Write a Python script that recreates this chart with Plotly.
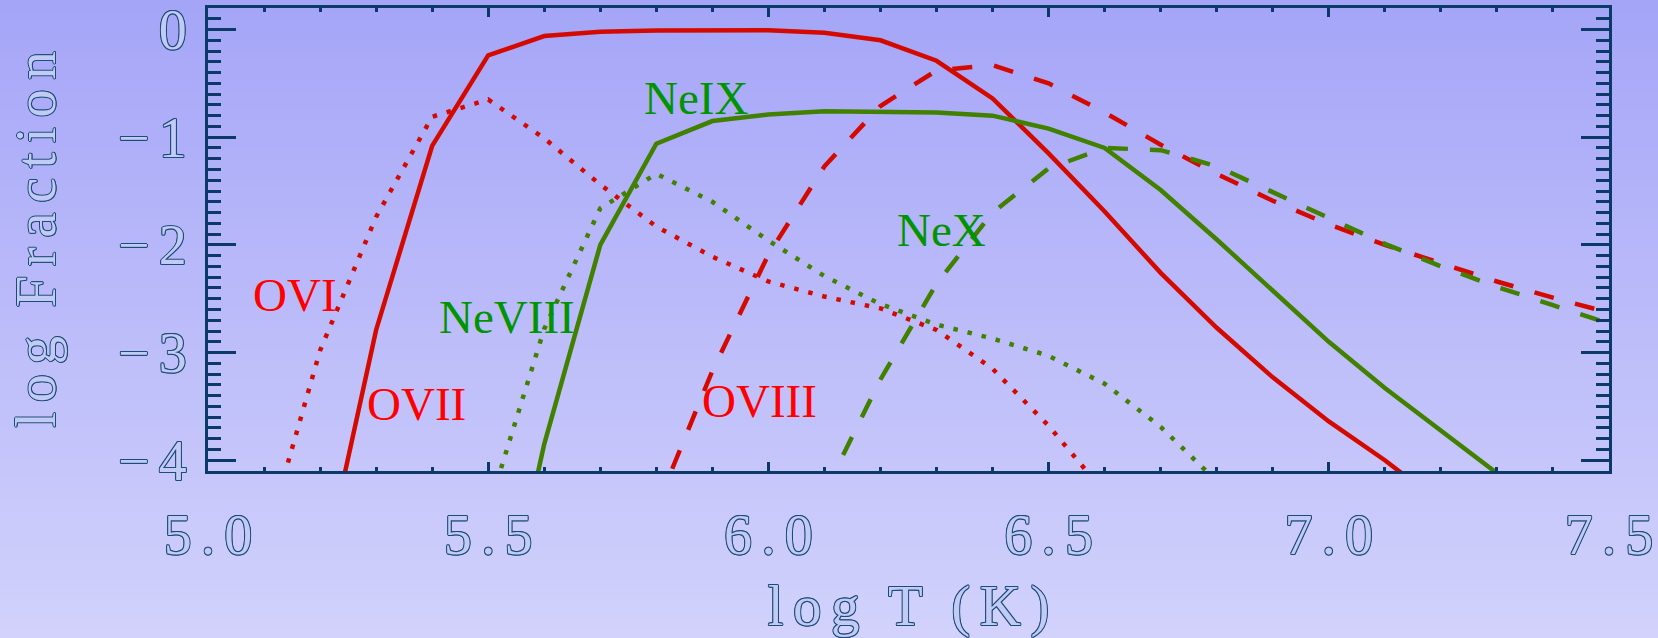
import plotly.graph_objects as go

# ---------------- data (log T, log ionisation fraction) ----------------
OVI_T = [5.1, 5.2, 5.3, 5.4, 5.5, 5.6, 5.7, 5.8, 5.9, 6.0, 6.1, 6.2, 6.3, 6.4, 6.5, 6.6]
OVI_F = [-4.80, -2.98, -1.74, -0.81, -0.65, -1.01, -1.44, -1.83, -2.11, -2.34, -2.48,
         -2.59, -2.79, -3.15, -3.68, -4.30]

OVII_T = [5.2, 5.3, 5.4, 5.5, 5.6, 5.7, 5.8, 5.9, 6.0, 6.1, 6.2, 6.3, 6.4, 6.5, 6.6,
          6.7, 6.8, 6.9, 7.0, 7.1, 7.2]
OVII_F = [-5.17, -2.79, -1.08, -0.24, -0.06, -0.02, -0.01, -0.003, -0.006, -0.03, -0.10,
          -0.29, -0.64, -1.15, -1.69, -2.26, -2.77, -3.23, -3.64, -4.00, -4.40]

OVIII_T = [5.8, 5.9, 6.0, 6.1, 6.2, 6.3, 6.4, 6.5, 6.6, 6.7, 6.8, 6.9, 7.0, 7.1, 7.2,
           7.3, 7.4, 7.5]
OVIII_F = [-4.44, -3.17, -2.09, -1.27, -0.71, -0.38, -0.33, -0.50, -0.77, -1.07, -1.34,
           -1.59, -1.81, -2.00, -2.17, -2.34, -2.49, -2.63]

NeVIII_T = [5.5, 5.6, 5.7, 5.8, 5.9, 6.0, 6.1, 6.2, 6.3, 6.4, 6.5, 6.6, 6.7, 6.8, 6.9]
NeVIII_F = [-4.46, -2.78, -1.66, -1.34, -1.60, -1.96, -2.29, -2.55, -2.74, -2.87, -3.03,
            -3.29, -3.69, -4.21, -4.70]

NeIX_T = [5.5, 5.6, 5.7, 5.8, 5.9, 6.0, 6.1, 6.2, 6.3, 6.4, 6.5, 6.6, 6.7, 6.8, 6.9,
          7.0, 7.1, 7.2, 7.3, 7.4]
NeIX_F = [-6.20, -3.85, -2.00, -1.06, -0.85, -0.79, -0.76, -0.76, -0.77, -0.80, -0.92,
          -1.10, -1.49, -1.95, -2.42, -2.90, -3.33, -3.73, -4.12, -4.50]

NeX_T = [6.1, 6.2, 6.3, 6.4, 6.5, 6.6, 6.7, 6.8, 6.9, 7.0, 7.1, 7.2, 7.3, 7.4, 7.5]
NeX_F = [-4.30, -3.25, -2.36, -1.70, -1.29, -1.10, -1.12, -1.27, -1.51, -1.75, -1.99,
         -2.20, -2.39, -2.56, -2.73]

LABELS = ["OVI", "OVII", "OVIII", "NeVIII", "NeIX", "NeX"]
LABEL_X = [5.155, 5.372, 5.984, 5.533, 5.870, 6.308]
LABEL_Y = [-2.47, -3.48, -3.45, -2.67, -0.64, -1.86]

X_TICKS = [5.0, 5.5, 6.0, 6.5, 7.0, 7.5]
X_TICKTEXT = ["5\u2006.\u20060", "5\u2006.\u20065", "6\u2006.\u20060",
              "6\u2006.\u20065", "7\u2006.\u20060", "7\u2006.\u20065"]
Y_TICKS = [0, -1, -2, -3, -4]
Y_TICKTEXT = ["0", "\u2212\u20061", "\u2212\u20062", "\u2212\u20063", "\u2212\u20064"]

X_TITLE = "l\u2006o\u2006g\u2002T\u2002(\u2006K\u2006)"
Y_TITLE = "l\u2006o\u2006g\u2002F\u2006r\u2006a\u2006c\u2006t\u2006i\u2006o\u2006n"

# ---------------- styling ----------------
RED = "#d40a00"
GREEN = "#428000"
RED_TXT = "#ff0000"
GREEN_TXT = "#009400"
AXIS = "#0b3a6a"
OUTLINE = "#1d4b7b"
FILL = "#c2cbf3"
SHADOW = ", ".join(f"{dx}px {dy}px 0 {OUTLINE}" for dx, dy in
                   [(1, 0), (-1, 0), (0, 1), (0, -1), (0.7, 0.7), (-0.7, -0.7), (0.7, -0.7), (-0.7, 0.7)])
SERIF = "Liberation Serif, Times New Roman, serif"

W, H = 1658, 638
ML, MR, MT, MB = 208, 49, 8, 167
PW, PH = W - ML - MR, H - MT - MB

LW = 4.5
DOT = "4.5px,10px"
DASH = "20px,22px"

series = [
    (OVI_T, OVI_F, RED, DOT),
    (OVII_T, OVII_F, RED, "solid"),
    (OVIII_T, OVIII_F, RED, DASH),
    (NeVIII_T, NeVIII_F, GREEN, DOT),
    (NeIX_T, NeIX_F, GREEN, "solid"),
    (NeX_T, NeX_F, GREEN, DASH),
]

fig = go.Figure()
for xs, ys, col, dash in series:
    fig.add_trace(go.Scatter(x=xs, y=ys, mode="lines",
                             line=dict(color=col, width=LW, dash=dash),
                             showlegend=False, hoverinfo="skip"))

# background vertical gradient (top lavender -> bottom pale)
top = (165, 165, 248)
bot = (210, 210, 252)
N = 64
shapes = []
for i in range(N):
    p0 = i * H / N
    p1 = (i + 1) * H / N + 1
    t = (i + 0.5) / N
    c = tuple(round(top[k] + (bot[k] - top[k]) * t) for k in range(3))
    shapes.append(dict(type="rect", xref="paper", yref="paper", layer="below",
                       x0=-ML / PW - 0.01, x1=1 + MR / PW + 0.01,
                       y0=(H - MB - p1) / PH, y1=(H - MB - p0) / PH,
                       line=dict(width=0), fillcolor=f"rgb{c}"))

annotations = []
for txt, lx, ly in zip(LABELS, LABEL_X, LABEL_Y):
    col = RED_TXT if txt.startswith("O") else GREEN_TXT
    annotations.append(dict(x=lx, y=ly, xref="x", yref="y", text=txt, showarrow=False,
                            font=dict(family=SERIF, size=47, color=col),
                            xanchor="center", yanchor="middle"))

tickfont = dict(family=SERIF, size=56, color=FILL, shadow=SHADOW)
titlefont = dict(family=SERIF, size=57, color=FILL, shadow=SHADOW)

fig.update_layout(
    width=W, height=H,
    autosize=False,
    margin=dict(l=ML, r=MR, t=MT, b=MB, pad=0, autoexpand=False),
    paper_bgcolor="rgb(%d,%d,%d)" % bot,
    plot_bgcolor="rgba(0,0,0,0)",
    shapes=shapes,
    annotations=annotations,
    showlegend=False,
    xaxis=dict(range=[5.0, 7.5], tickvals=X_TICKS, ticktext=X_TICKTEXT,
               ticks="inside", ticklen=9, tickwidth=2.5, tickcolor=AXIS,
               minor=dict(dtick=0.1, tick0=5.0, ticks="inside", ticklen=4,
                          tickwidth=2.5, tickcolor=AXIS, showgrid=False),
               showline=True, linecolor=AXIS, linewidth=3, mirror="allticks",
               showgrid=False, zeroline=False, tickfont=tickfont,
               automargin=False, ticklabelstandoff=13, ticklabeloverflow="allow",
               title=dict(text=X_TITLE, font=titlefont, standoff=32)),
    yaxis=dict(range=[-4.1, 0.2], tickvals=Y_TICKS, ticktext=Y_TICKTEXT,
               ticks="inside", ticklen=28, tickwidth=3, tickcolor=AXIS,
               minor=dict(dtick=0.1, tick0=0, ticks="inside", ticklen=13,
                          tickwidth=3, tickcolor=AXIS, showgrid=False),
               showline=True, linecolor=AXIS, linewidth=3, mirror="allticks",
               showgrid=False, zeroline=False, tickfont=tickfont,
               automargin=False, ticklabelstandoff=7, ticklabeloverflow="allow",
               title=dict(text=Y_TITLE, font=titlefont, standoff=44)),
)

fig.write_html(
    "out.html",
    config={"displayModeBar": False},
    post_script=("document.body.style.margin='0';"
                 "document.body.style.overflow='hidden';"
                 "document.body.style.background='rgb(%d,%d,%d)';" % bot),
)
